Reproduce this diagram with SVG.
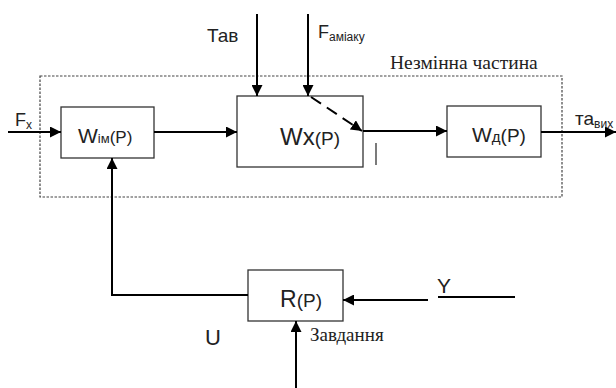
<svg xmlns="http://www.w3.org/2000/svg" width="616" height="388" viewBox="0 0 616 388">
<defs>
<marker id="ah" viewBox="0 0 10 10" refX="10" refY="5" markerWidth="11" markerHeight="11" markerUnits="userSpaceOnUse" orient="auto"><path d="M0,0 L10,5 L0,10 z" fill="#000"/></marker>
</defs>
<style>
.box{fill:#fff;stroke:#333;stroke-width:1.3}
.ln{fill:none;stroke:#000;stroke-width:2}
.s{font-family:"Liberation Sans",Arial,sans-serif;fill:#222}
.r{font-family:"Liberation Serif","DejaVu Serif","Times New Roman",serif;fill:#222}
</style>
<rect width="616" height="388" fill="#fff"/>
<g id="fixed-part">
<rect x="40" y="76" width="522" height="121" fill="none" stroke="#444" stroke-width="1.2" stroke-dasharray="2.5,1.5"/>
<text class="r" x="390" y="69" font-size="19.5">Незмінна частина</text>
</g>
<g id="W-im">
<rect class="box" x="61" y="107" width="93" height="51"/>
<text class="s" x="78" y="143" font-size="21">W<tspan font-size="13">ім</tspan><tspan font-size="17">(P)</tspan></text>
</g>
<g id="W-x">
<rect class="box" x="237" y="96" width="126" height="71"/>
<text class="s" x="280" y="145" font-size="24">Wx<tspan font-size="19">(P)</tspan></text>
</g>
<g id="W-d">
<rect class="box" x="447" y="106" width="94" height="51"/>
<text class="s" x="472" y="142" font-size="21">W<tspan font-size="15">д</tspan><tspan font-size="19">(P)</tspan></text>
</g>
<g id="R">
<rect class="box" x="248" y="270" width="95" height="51"/>
<text class="s" x="280" y="307" font-size="23">R<tspan font-size="19">(P)</tspan></text>
</g>
<g id="connectors">
<line class="ln" x1="8" y1="132" x2="61" y2="132" marker-end="url(#ah)"/>
<line class="ln" x1="154" y1="132" x2="237" y2="132" marker-end="url(#ah)"/>
<line class="ln" x1="257" y1="14" x2="257" y2="96" marker-end="url(#ah)"/>
<line class="ln" x1="308" y1="14" x2="308" y2="96" marker-end="url(#ah)"/>
<line class="ln" x1="311" y1="97" x2="362" y2="131" stroke-dasharray="12,7" marker-end="url(#ah)"/>
<line class="ln" x1="363" y1="131" x2="447" y2="131" marker-end="url(#ah)"/>
<line x1="376" y1="143" x2="376" y2="165" stroke="#222" stroke-width="1.2"/>
<line class="ln" x1="541" y1="132" x2="616" y2="132" marker-end="url(#ah)"/>
<polyline class="ln" points="248,295 112,295 112,158" marker-end="url(#ah)"/>
<line class="ln" x1="428" y1="300" x2="343" y2="300" marker-end="url(#ah)"/>
<line class="ln" x1="438" y1="297" x2="515" y2="297"/>
<line class="ln" x1="296" y1="388" x2="296" y2="321" marker-end="url(#ah)"/>
</g>
<g id="inputs">
<text class="s" x="15" y="126" font-size="18">F<tspan font-size="12" dy="3">x</tspan></text>
<text class="s" x="207" y="42" font-size="19">Тав</text>
<text class="s" x="318" y="38" font-size="18">F<tspan font-size="12" dy="3">аміаку</tspan></text>
<text class="s" x="575" y="125" font-size="19">та<tspan font-size="12" dy="3">вих</tspan></text>
<text class="s" x="205" y="345" font-size="22">U</text>
<text class="s" x="437" y="293" font-size="21">Y</text>
<text class="r" x="310" y="341" font-size="19">Завдання</text>
</g>
</svg>
